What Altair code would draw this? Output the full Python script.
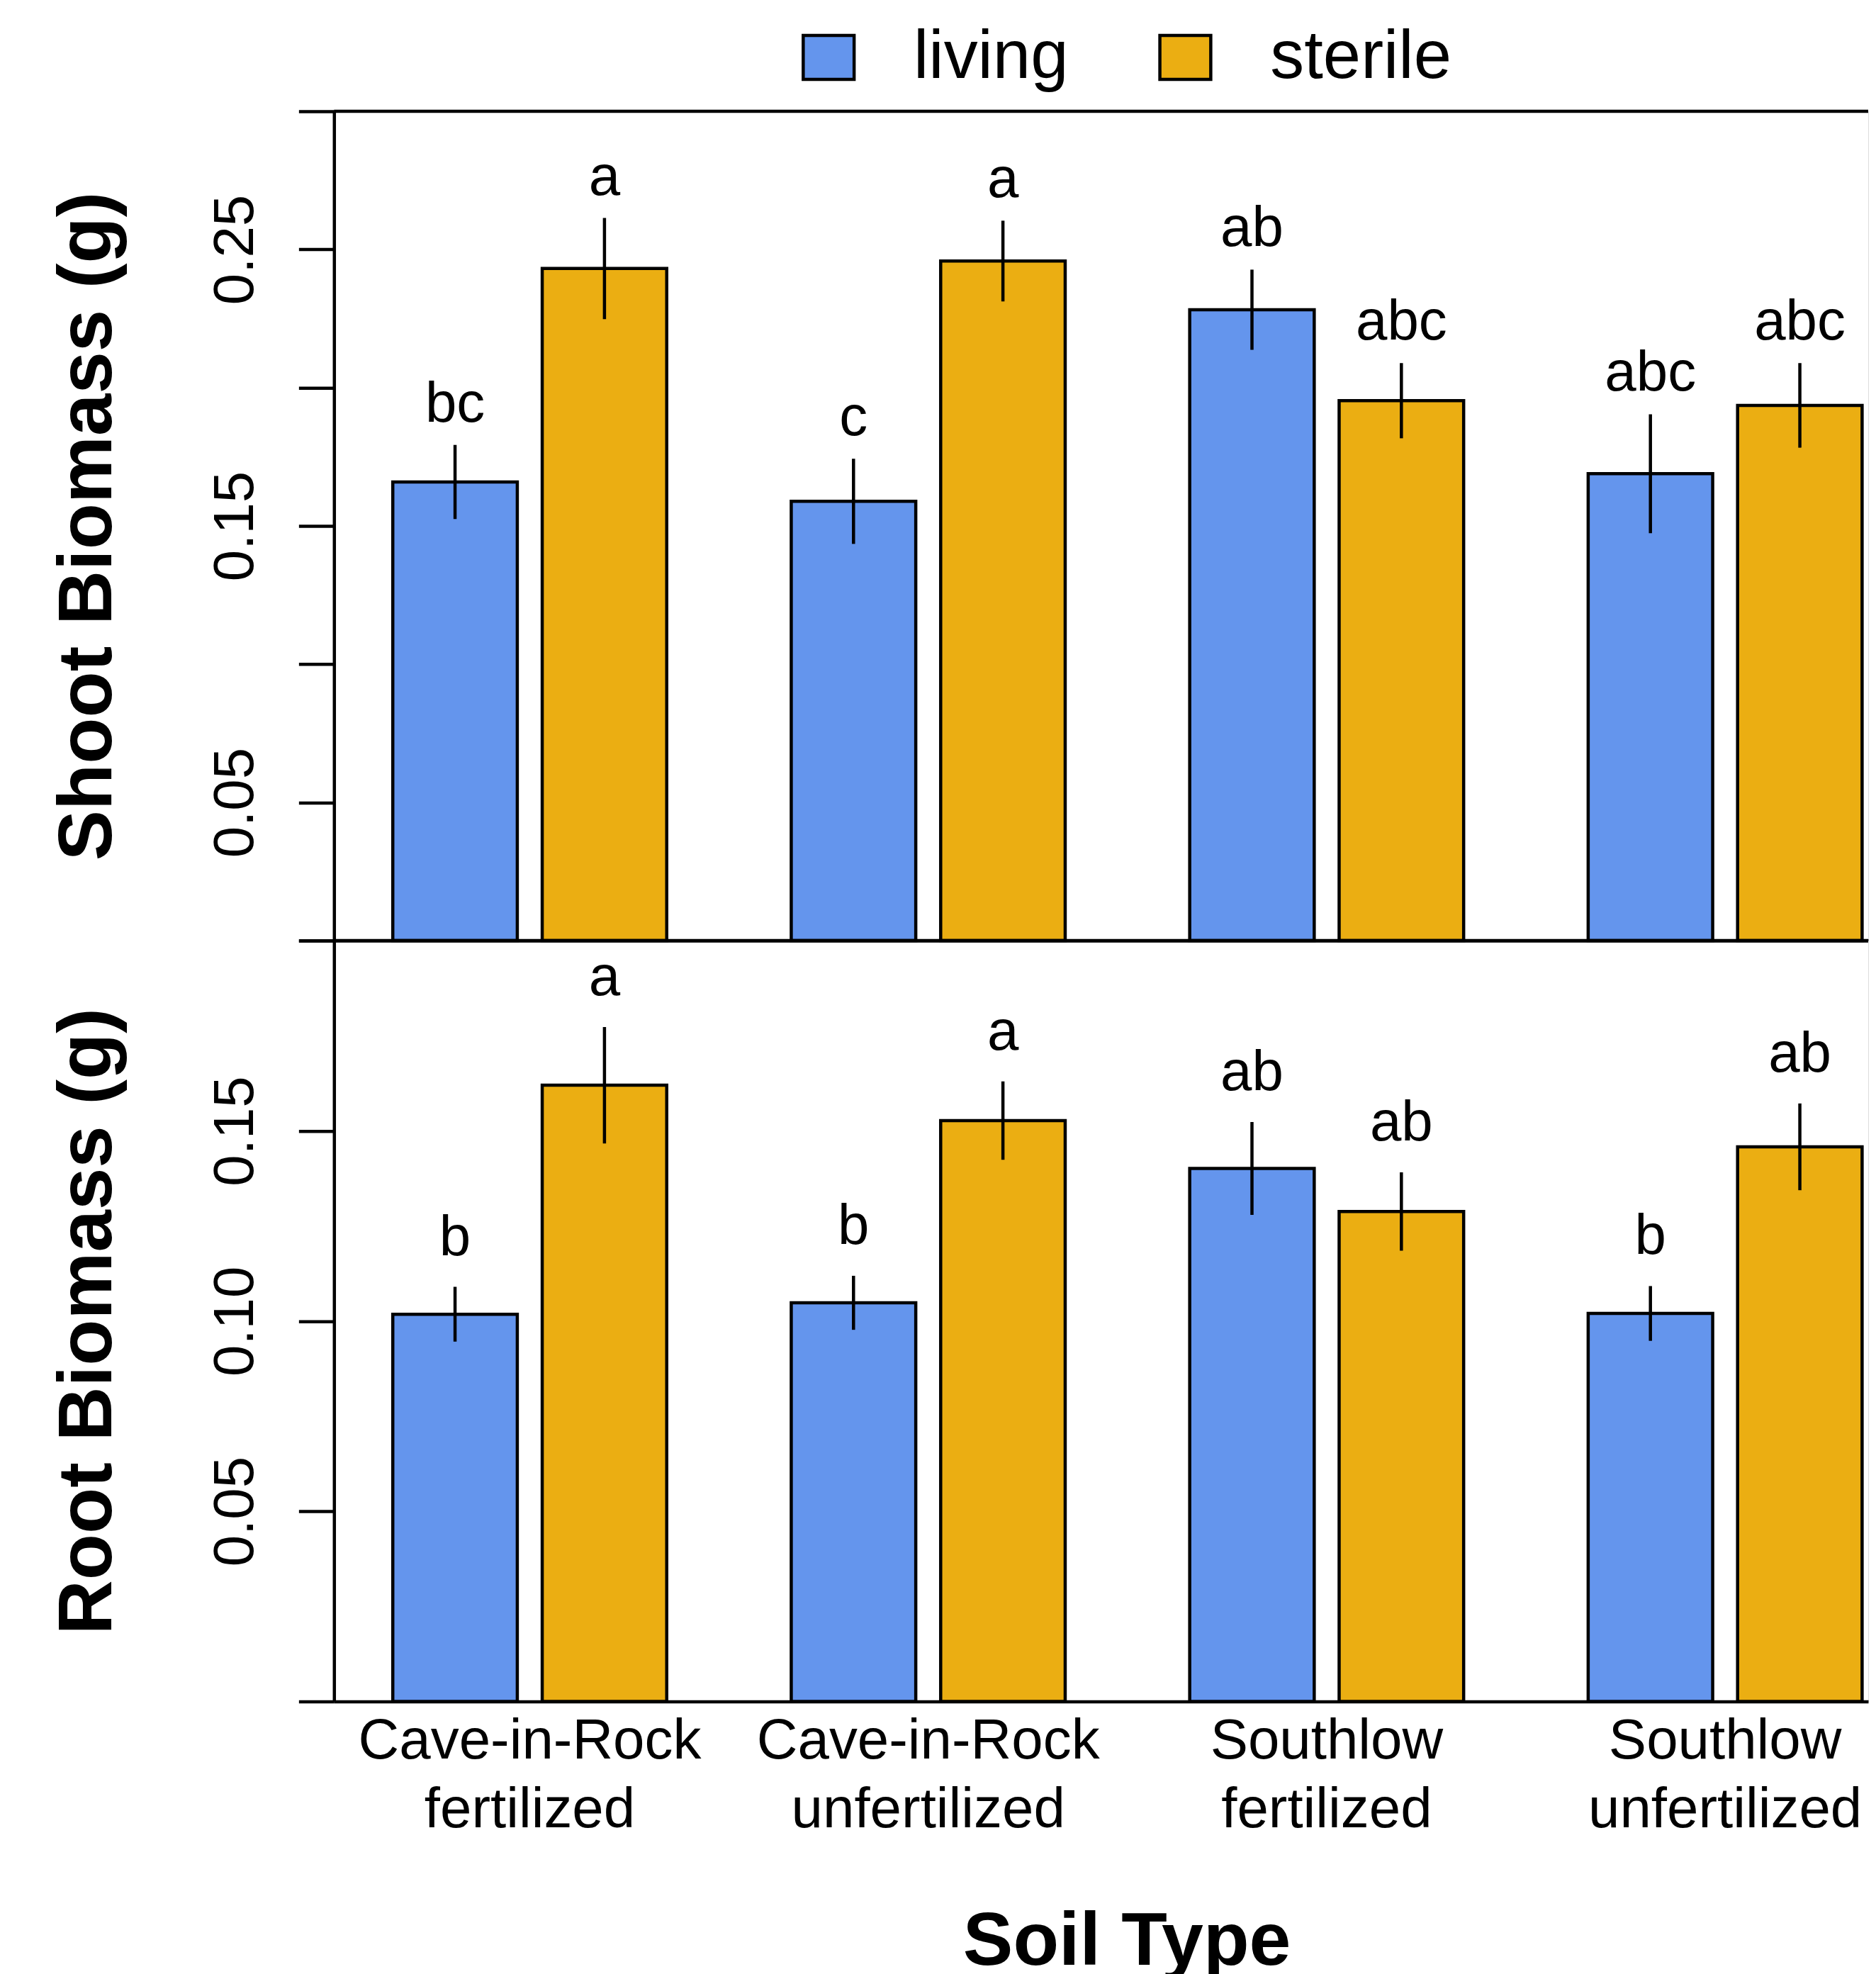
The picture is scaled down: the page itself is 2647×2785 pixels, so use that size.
import altair as alt
import pandas as pd

# ---------------- data ----------------
soil_types = [
    "Cave-in-Rock fertilized",
    "Cave-in-Rock unfertilized",
    "Southlow fertilized",
    "Southlow unfertilized",
]
treatments = ["living", "sterile"]

shoot_living = [0.1659, 0.1589, 0.2282, 0.1689]
shoot_living_se = [0.0134, 0.0154, 0.0145, 0.0215]
shoot_sterile = [0.2431, 0.2458, 0.1953, 0.1936]
shoot_sterile_se = [0.0183, 0.0146, 0.0136, 0.0153]
shoot_letters_living = ["bc", "c", "ab", "abc"]
shoot_letters_sterile = ["a", "a", "abc", "abc"]

root_living = [0.1018, 0.1048, 0.1401, 0.1020]
root_living_se = [0.0072, 0.0071, 0.0122, 0.0072]
root_sterile = [0.1620, 0.1527, 0.1288, 0.1458]
root_sterile_se = [0.0153, 0.0103, 0.0103, 0.0114]
root_letters_living = ["b", "b", "ab", "b"]
root_letters_sterile = ["a", "a", "ab", "ab"]

shoot_ticks = [0.0, 0.05, 0.10, 0.15, 0.20, 0.25, 0.30]
shoot_tick_labels = ["0.05", "0.15", "0.25"]
root_ticks = [0.0, 0.05, 0.10, 0.15, 0.20]
root_tick_labels = ["0.05", "0.10", "0.15"]

colors = ["#6495ED", "#EBAE12"]

FONT = "Liberation Sans"
LW = 4.5


def make_df(living, living_se, sterile, sterile_se, let_l, let_s):
    rows = []
    for i, soil in enumerate(soil_types):
        rows.append(dict(soil=soil, treatment="living", mean=living[i],
                         se=living_se[i], letter=let_l[i]))
        rows.append(dict(soil=soil, treatment="sterile", mean=sterile[i],
                         se=sterile_se[i], letter=let_s[i]))
    df = pd.DataFrame(rows)
    df["lo"] = df["mean"] - df["se"]
    df["hi"] = df["mean"] + df["se"]
    return df


shoot_df = make_df(shoot_living, shoot_living_se, shoot_sterile,
                   shoot_sterile_se, shoot_letters_living, shoot_letters_sterile)
root_df = make_df(root_living, root_living_se, root_sterile,
                  root_sterile_se, root_letters_living, root_letters_sterile)

PLOT_W = 2168
TOP_H = 1172
BOT_H = 1075

xscale = alt.Scale(domain=soil_types, paddingInner=0.3125,
                   paddingOuter=0.0814, align=0.906)
xoff = alt.XOffset("treatment:N", sort=treatments,
                   scale=alt.Scale(domain=treatments, paddingInner=0.1667,
                                   paddingOuter=0))


def y_axis(ticks, shown, title, height):
    expr = "indexof(%s, datum.label) >= 0 ? datum.label : ''" % (
        "[" + ",".join("'%s'" % s for s in shown) + "]")
    return alt.Axis(
        values=ticks, format=".2f", labelExpr=expr, labelAngle=270,
        labelAlign="center", labelBaseline="alphabetic", labelPadding=65,
        labelFontSize=80, labelFont=FONT, labelColor="black",
        labelOverlap=False, tickSize=50, tickWidth=LW, tickColor="black",
        domainWidth=LW, domainColor="black", grid=False,
        title=title, titleFont=FONT, titleFontSize=107,
        titleFontWeight="bold", titleAngle=270, titleAlign="center",
        titleBaseline="alphabetic", titleX=-315, titleY=height / 2,
        titleColor="black", titleLimit=3000,
    )


def panel(df, ticks, shown, title, height, top, letter_dy):
    yscale = alt.Scale(domain=[ticks[0], ticks[-1]], nice=False, zero=True)
    yaxis = y_axis(ticks, shown, title, height)
    if top:
        xaxis = alt.Axis(labels=False, ticks=False, domain=True,
                         domainWidth=LW, domainColor="black", title="",
                         grid=False)
        legend = alt.Legend(
            orient="none", legendX=651, legendY=-124, direction="horizontal",
            title=None, symbolType="M-1.16,-1H1.16V1H-1.16Z", symbolSize=3844,
            symbolStrokeColor="black", symbolStrokeWidth=LW, symbolOpacity=1,
            labelFontSize=96, labelFont=FONT, labelColor="black",
            labelOffset=72, columnPadding=117, padding=0, labelLimit=1000,
            labelBaseline="middle",
        )
    else:
        xaxis = alt.Axis(
            labelExpr="split(datum.label, ' ')", labelFontSize=80,
            labelFont=FONT, labelColor="black", labelLineHeight=97,
            labelBaseline="top", labelPadding=17, labelAngle=0,
            labelLimit=1000, labelOverlap=False, ticks=False, tickSize=0,
            domainWidth=LW, domainColor="black", grid=False,
            title="Soil Type", titleFont=FONT, titleFontSize=106,
            titleFontWeight="bold", titleX=1120, titleY=372,
            titleAlign="center", titleBaseline="alphabetic",
            titleColor="black", titleLimit=3000,
        )
        legend = None

    xenc = alt.X("soil:N", sort=soil_types, scale=xscale, axis=xaxis)
    base = alt.Chart(df)
    bars = base.mark_bar(stroke="black", strokeWidth=LW, opacity=1).encode(
        x=xenc,
        xOffset=xoff,
        y=alt.Y("mean:Q", scale=yscale, axis=yaxis),
        color=alt.Color("treatment:N", sort=treatments,
                        scale=alt.Scale(domain=treatments, range=colors),
                        legend=legend),
    )
    errs = base.mark_rule(color="black", strokeWidth=LW).encode(
        x=xenc,
        xOffset=xoff,
        y=alt.Y("lo:Q", scale=yscale, axis=yaxis),
        y2="hi:Q",
    )
    letters = base.mark_text(font=FONT, fontSize=80, color="black",
                             baseline="alphabetic", align="center",
                             dy=letter_dy).encode(
        x=xenc,
        xOffset=xoff,
        y=alt.Y("hi:Q", scale=yscale, axis=yaxis),
        text="letter:N",
    )
    edge_value = ticks[-1]
    frame = alt.Chart(pd.DataFrame({"v": [edge_value]})).mark_rule(
        color="black", strokeWidth=LW).encode(
        y=alt.Y("v:Q", scale=yscale, axis=yaxis))
    layers = [bars, errs, letters, frame]
    return alt.layer(*layers).properties(width=PLOT_W, height=height)


top_chart = panel(shoot_df, shoot_ticks, shoot_tick_labels,
                  "Shoot Biomass (g)", TOP_H, True, -33)
bottom_chart = panel(root_df, root_ticks, root_tick_labels,
                     "Root Biomass (g)", BOT_H, False, -45)

chart = alt.vconcat(top_chart, bottom_chart, spacing=0, bounds="flush").resolve_legend(
    color="independent"
).properties(
    padding={"left": 62, "top": 22, "right": 0, "bottom": 0}
).configure_view(strokeWidth=0, fill="transparent").configure(font=FONT)

chart.save("out.html", embed_options={"renderer": "svg", "actions": False})
